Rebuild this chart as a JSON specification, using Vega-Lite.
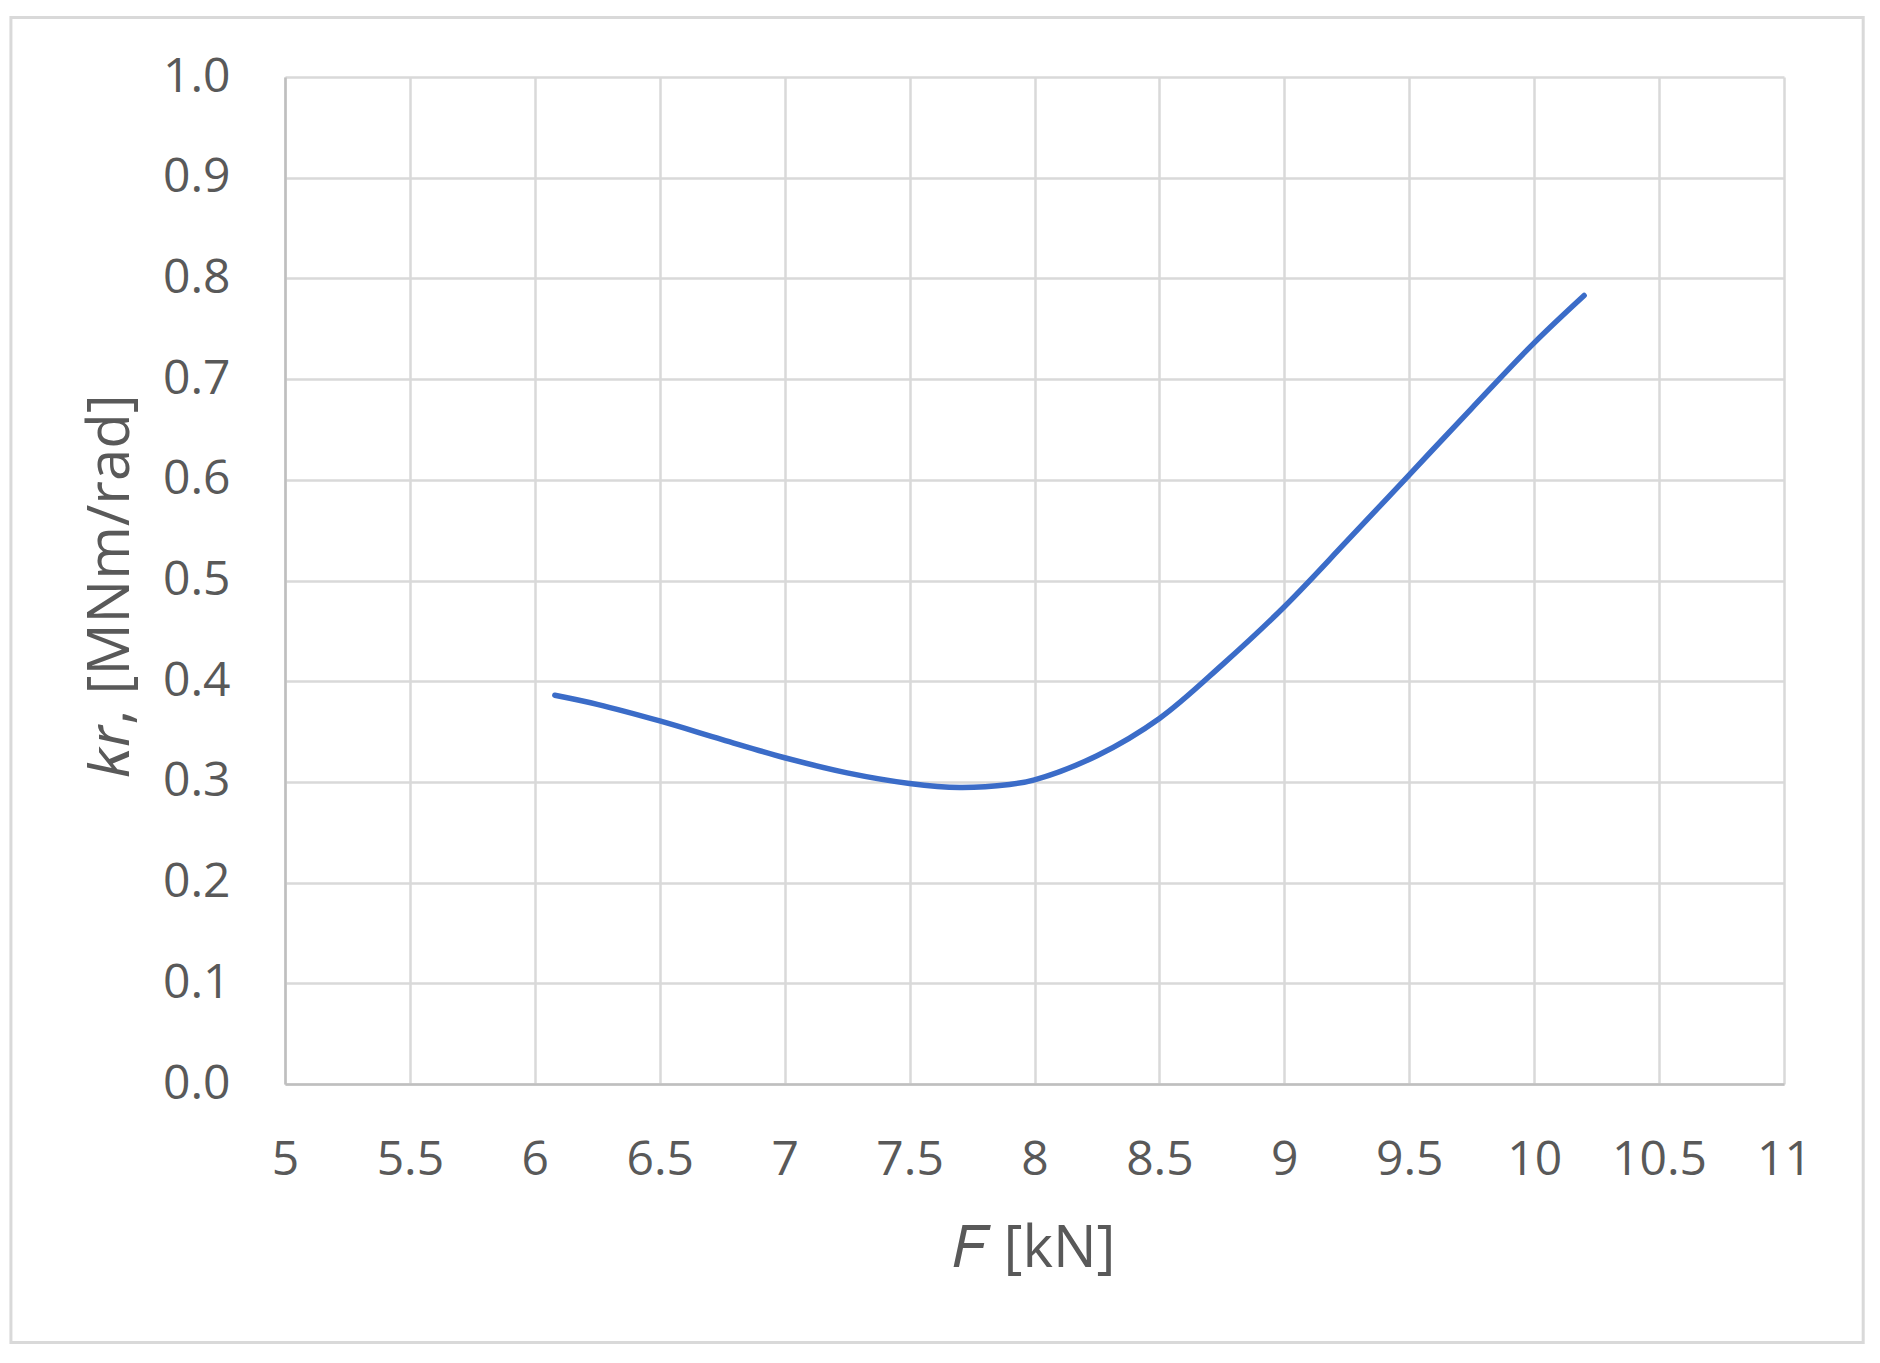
{
  "$schema": "https://vega.github.io/schema/vega-lite/v6.json",
  "autosize": "none",
  "width": 1499,
  "height": 1007,
  "padding": {"left": 285, "top": 77, "right": 96, "bottom": 279},
  "background": "white",
  "config": {
    "view": {"stroke": null},
    "font": "Open Sans",
    "axis": {
      "labelFont": "Open Sans",
      "titleFont": "Open Sans",
      "labelColor": "#595959",
      "titleColor": "#595959",
      "labelFontSize": 48,
      "titleFontSize": 58,
      "titleFontWeight": "normal",
      "gridColor": "#d9d9d9",
      "gridWidth": 2.5,
      "domainColor": "#bfbfbf",
      "domainWidth": 2.5,
      "ticks": false,
      "tickSize": 0
    }
  },
  "datasets": {
    "curve": [
      {"F": 6.08, "kr": 0.386},
      {"F": 6.25, "kr": 0.377},
      {"F": 6.5, "kr": 0.3605},
      {"F": 6.75, "kr": 0.342},
      {"F": 7.0, "kr": 0.324},
      {"F": 7.25, "kr": 0.309},
      {"F": 7.5, "kr": 0.2985},
      {"F": 7.7, "kr": 0.2945},
      {"F": 7.9, "kr": 0.2975},
      {"F": 8.0, "kr": 0.302},
      {"F": 8.25, "kr": 0.326},
      {"F": 8.5, "kr": 0.363},
      {"F": 8.75, "kr": 0.416},
      {"F": 9.0, "kr": 0.474},
      {"F": 9.25, "kr": 0.539},
      {"F": 9.5, "kr": 0.605},
      {"F": 9.75, "kr": 0.671},
      {"F": 10.0, "kr": 0.736},
      {"F": 10.2, "kr": 0.783}
    ],
    "frame": [{"x1": 3.903, "x2": 11.317, "y1": 1.059, "y2": -0.2567}]
  },
  "layer": [
    {
      "data": {"name": "frame"},
      "mark": {"type": "rect", "fill": null, "stroke": "#d9d9d9", "strokeWidth": 3, "clip": false},
      "encoding": {
        "x": {"field": "x1", "type": "quantitative", "scale": {"domain": [5, 11], "nice": false, "zero": false}},
        "x2": {"field": "x2"},
        "y": {"field": "y1", "type": "quantitative", "scale": {"domain": [0, 1], "nice": false, "zero": false}},
        "y2": {"field": "y2"}
      }
    },
    {
      "data": {"name": "curve"},
      "mark": {"type": "line", "color": "#3b6cc8", "strokeWidth": 5.5, "interpolate": "catmull-rom", "strokeCap": "round"},
      "encoding": {
        "x": {
          "field": "F", "type": "quantitative",
          "scale": {"domain": [5, 11], "nice": false, "zero": false},
          "axis": {
            "title": "𝐹 [kN]",
            "values": [5, 5.5, 6, 6.5, 7, 7.5, 8, 8.5, 9, 9.5, 10, 10.5, 11],
            "format": "~g",
            "labelBaseline": "alphabetic",
            "labelPadding": 90,
            "labelFlush": false,
            "titleBaseline": "alphabetic",
            "titleX": 749,
            "titleY": 182
          }
        },
        "y": {
          "field": "kr", "type": "quantitative",
          "scale": {"domain": [0, 1], "nice": false, "zero": false},
          "axis": {
            "title": "𝑘𝑟, [MNm/rad]",
            "values": [0, 0.1, 0.2, 0.3, 0.4, 0.5, 0.6, 0.7, 0.8, 0.9, 1.0],
            "format": ".1f",
            "labelPadding": 55,
            "labelFlush": false,
            "titleBaseline": "alphabetic",
            "titleAngle": -90,
            "titleX": -157,
            "titleY": 508
          }
        }
      }
    }
  ]
}
